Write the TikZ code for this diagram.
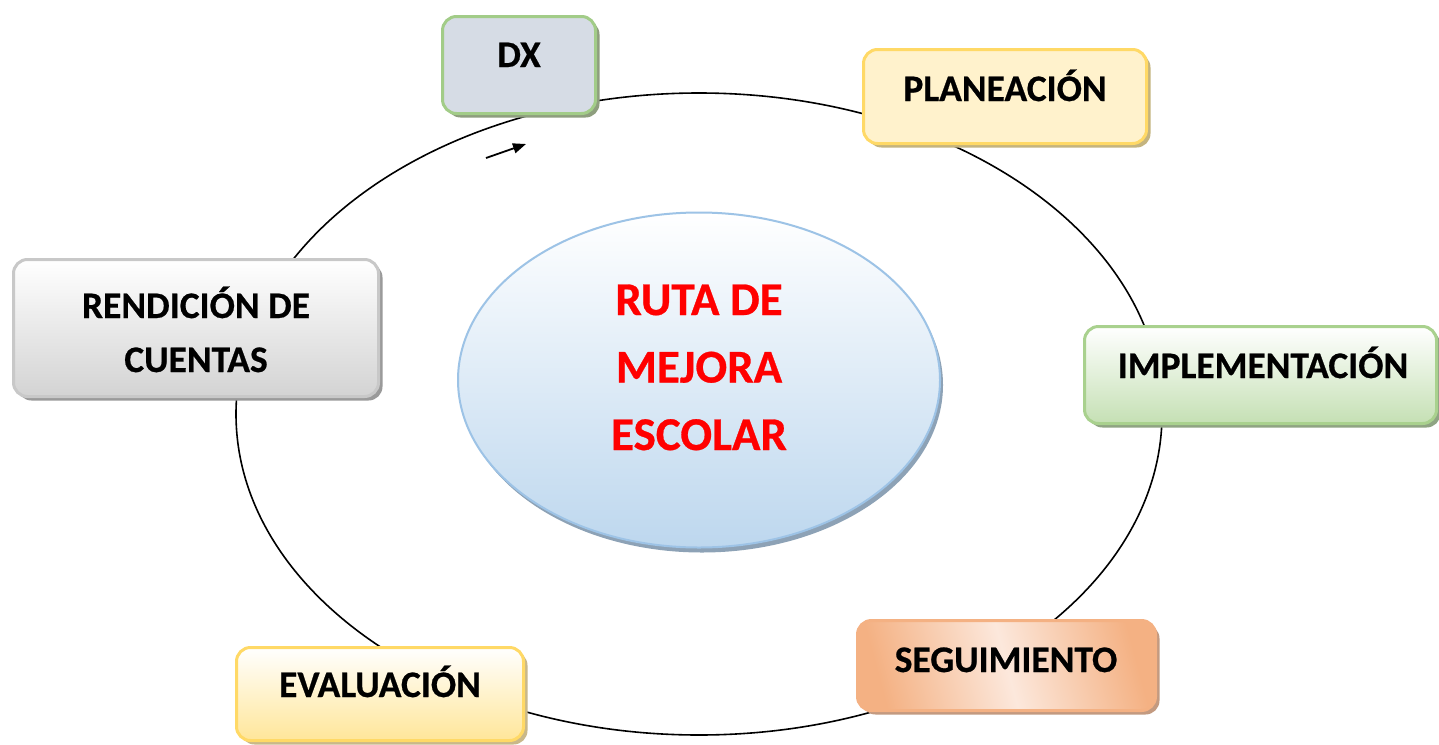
\documentclass[tikz,border=0pt]{standalone}
\usepackage{fontspec}
\setmainfont{Carlito}[BoldFeatures={FakeBold=0.6}]
\usetikzlibrary{shadows,arrows.meta,shapes.geometric}
\definecolor{dxfill}{HTML}{D6DCE5}
\definecolor{dxline}{HTML}{A2CC88}
\definecolor{dxshad}{HTML}{8E9E7E}
\definecolor{plfill}{HTML}{FFF2CC}
\definecolor{plline}{HTML}{FFD966}
\definecolor{plshad}{HTML}{C4B47F}
\definecolor{rdbot}{HTML}{D3D3D3}
\definecolor{rdline}{HTML}{C8C8C8}
\definecolor{rdshad}{HTML}{9A9A9A}
\definecolor{imbot}{HTML}{C5E0B4}
\definecolor{imline}{HTML}{A9D18E}
\definecolor{imshad}{HTML}{8FA483}
\definecolor{sgdark}{HTML}{F4B183}
\definecolor{sglight}{HTML}{FCE8DC}
\definecolor{sgline}{HTML}{F4B183}
\definecolor{sgshad}{HTML}{C39A80}
\definecolor{evbot}{HTML}{FFE699}
\definecolor{evline}{HTML}{FFD966}
\definecolor{evshad}{HTML}{C9B88A}
\definecolor{elbot}{HTML}{BDD7EE}
\definecolor{elline}{HTML}{9DC3E6}
\definecolor{elshad}{HTML}{8DA2B6}
\definecolor{rutared}{HTML}{FF0000}
\tikzset{
  stagebox/.style={draw, line width=3pt, rounded corners=14pt, inner sep=0pt},
  shad/.style={drop shadow={shadow xshift=4pt, shadow yshift=-4pt, opacity=1, fill=#1}},
  boxtext/.style={font=\fontsize{37.5}{54}\selectfont\bfseries, anchor=base, align=center, inner sep=0pt},
  centertext/.style={font=\fontsize{47}{67.5}\selectfont\bfseries, text=rutared, anchor=base, align=center, inner sep=0pt}
}
\begin{document}
\begin{tikzpicture}[x=1pt,y=-1pt]
\useasboundingbox (0,0) rectangle (1439,744);
\fill[white] (0,0) rectangle (1439,744);
% cycle ring
\coordinate (ringc) at (699,414);
\draw[line width=1.6pt] (ringc) ellipse [x radius=463pt, y radius=321pt];
% small arrow
\coordinate (arra) at (486,158);
\coordinate (arrb) at (526,144);
\draw[line width=1.8pt, -{Triangle[length=13pt,width=10pt]}] (arra) -- (arrb);
% central ellipse
\node[ellipse, draw=elline, line width=2pt, minimum width=482pt, minimum height=335pt, top color=white, bottom color=elbot,
  drop shadow={shadow xshift=3pt, shadow yshift=-5pt, opacity=1, fill=elshad}] (ruta) at (699,380) {};
\node[centertext] (rutatxt) at (699,450) {RUTA DE\\MEJORA\\ESCOLAR};
% boxes
\node[stagebox, draw=dxline, fill=dxfill, shad=dxshad, minimum width=153pt, minimum height=97pt] (dx) at (519,65) {};
\node[boxtext] (dxtxt) at (519,67) {DX};
\node[stagebox, draw=plline, fill=plfill, shad=plshad, minimum width=283pt, minimum height=94pt] (pl) at (1005,96.5) {};
\node[boxtext] (pltxt) at (1005,101) {PLANEACIÓN};
\node[stagebox, draw=rdline, top color=white, bottom color=rdbot, shad=rdshad, minimum width=365pt, minimum height=137pt] (rd) at (196,328) {};
\node[boxtext] (rdtxt) at (196,372) {RENDICIÓN DE\\CUENTAS};
\node[stagebox, draw=imline, top color=white, bottom color=imbot, shad=imshad, minimum width=352pt, minimum height=97pt] (im) at (1260.5,375) {};
\node[boxtext] (imtxt) at (1263,378) {IMPLEMENTACIÓN};
\node[stagebox, draw=sgline, shading=axis, top color=sgdark, bottom color=sgdark, middle color=sglight, shading angle=-75, shad=sgshad, minimum width=298pt, minimum height=90pt] (sg) at (1006.5,665.5) {};
\node[boxtext] (sgtxt) at (1006,672) {SEGUIMIENTO};
\node[stagebox, draw=evline, top color=white, bottom color=evbot, shad=evshad, minimum width=287pt, minimum height=93pt] (ev) at (380,694) {};
\node[boxtext] (evtxt) at (380,697) {EVALUACIÓN};
\end{tikzpicture}
\end{document}
